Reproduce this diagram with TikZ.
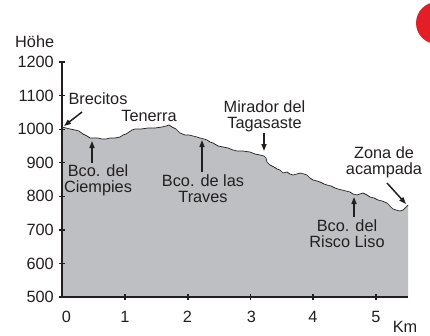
\documentclass[tikz,border=0pt]{standalone}
\usepackage{fontspec}
\setmainfont{Liberation Sans}
\usetikzlibrary{arrows.meta}
\definecolor{ink}{HTML}{231F20}
\definecolor{terrain}{HTML}{BEBFC2}
\definecolor{redmark}{HTML}{E41E26}
\tikzset{
  lbl/.style={font=\fontsize{16.3}{16}\selectfont, text=ink, inner sep=0pt, align=center},
  ticklbl/.style={font=\fontsize{16.3}{16}\selectfont, text=ink, inner sep=0pt},
  arr/.style={draw=ink, line width=1.5pt, -{Triangle[length=7pt,width=5pt]}},
  axisline/.style={draw=ink, line width=1.2pt},
  profile/.style={draw=ink, line width=0.7pt, line join=round}
}
\begin{document}
\begin{tikzpicture}[x=1pt,y=-1pt]
\useasboundingbox (0,0) rectangle (430,335);
\begin{scope}
\clip (0,0) rectangle (430,335);
\fill[redmark] (437,23) circle (21);
\end{scope}
% terrain
\path[fill=terrain] (62,297) -- (62,127) -- (66,128) -- (70,129) -- (75,130) -- (79,131) -- (83,134) -- (87,136) -- (90,138) -- (94,138) -- (98,138) -- (102,139) -- (106,139) -- (110,138) -- (115,138) -- (120,137) -- (123,135) -- (126,134) -- (129,132) -- (132,130) -- (135,129) -- (141,129) -- (148,128) -- (155,128) -- (162,127) -- (166,126) -- (169,125) -- (172,127) -- (176,129) -- (180,133) -- (185,135) -- (189,135) -- (193,136) -- (197,137) -- (200,138) -- (204,139) -- (207,140) -- (210,142) -- (213,143) -- (218,146) -- (223,147) -- (228,148) -- (233,150) -- (237,151) -- (243,151) -- (250,152) -- (255,154) -- (260,155) -- (264,156) -- (266,158) -- (267,162) -- (270,165) -- (274,167) -- (277,169) -- (280,170) -- (283,173) -- (287,172) -- (290,174) -- (293,175) -- (297,174) -- (300,173) -- (304,174) -- (307,175) -- (310,178) -- (313,180) -- (317,181) -- (320,182) -- (324,184) -- (327,185) -- (331,186) -- (335,188) -- (338,189) -- (342,190) -- (346,191) -- (350,192) -- (353,194) -- (357,195) -- (360,194) -- (363,193) -- (367,195) -- (370,197) -- (374,198) -- (378,200) -- (382,201) -- (387,203) -- (390,206) -- (393,209) -- (396,210) -- (400,211) -- (403,210) -- (405,208) -- (408,205) -- (408,297) -- cycle;
\draw[profile] (62,127) -- (66,128) -- (70,129) -- (75,130) -- (79,131) -- (83,134) -- (87,136) -- (90,138) -- (94,138) -- (98,138) -- (102,139) -- (106,139) -- (110,138) -- (115,138) -- (120,137) -- (123,135) -- (126,134) -- (129,132) -- (132,130) -- (135,129) -- (141,129) -- (148,128) -- (155,128) -- (162,127) -- (166,126) -- (169,125) -- (172,127) -- (176,129) -- (180,133) -- (185,135) -- (189,135) -- (193,136) -- (197,137) -- (200,138) -- (204,139) -- (207,140) -- (210,142) -- (213,143) -- (218,146) -- (223,147) -- (228,148) -- (233,150) -- (237,151) -- (243,151) -- (250,152) -- (255,154) -- (260,155) -- (264,156) -- (266,158) -- (267,162) -- (270,165) -- (274,167) -- (277,169) -- (280,170) -- (283,173) -- (287,172) -- (290,174) -- (293,175) -- (297,174) -- (300,173) -- (304,174) -- (307,175) -- (310,178) -- (313,180) -- (317,181) -- (320,182) -- (324,184) -- (327,185) -- (331,186) -- (335,188) -- (338,189) -- (342,190) -- (346,191) -- (350,192) -- (353,194) -- (357,195) -- (360,194) -- (363,193) -- (367,195) -- (370,197) -- (374,198) -- (378,200) -- (382,201) -- (387,203) -- (390,206) -- (393,209) -- (396,210) -- (400,211) -- (403,210) -- (405,208) -- (408,205);
% axes
\draw[axisline] (62,62) -- (62,297) -- (408,297);
\foreach \v/\y in {1200/62,1100/95.6,1000/129.1,900/162.7,800/196.3,700/229.9,600/263.4,500/297} {
  \draw[axisline] (59,\y) -- (65,\y);
  \node[ticklbl, anchor=east] (y\v) at (54,\y) {\v};
}
\foreach \k/\x/\lx in {1/125/125,2/188/187.5,3/250.5/251.5,4/313/313,5/376/376} {
  \draw[axisline] (\x,294) -- (\x,300);
  \node[ticklbl] (x\k) at (\lx,317) {\k};
}
\node[ticklbl] (x0) at (66.5,317) {0};
\node[ticklbl] (km) at (405,327) {Km};
\node[ticklbl, anchor=west] (hoehe) at (15,42) {Höhe};
% labels
\node[lbl] (brec) at (98,99) {Brecitos};
\node[lbl] (tene) at (149,116) {Tenerra};
\node[lbl] (mira) at (264.5,116) {Mirador del\\Tagasaste};
\node[lbl] (zona) at (384,162) {Zona de\\acampada};
\node[lbl] (ciem) at (98,180) {Bco. del\\Ciempies};
\node[lbl] (trav) at (203,189) {Bco. de las\\Traves};
\node[lbl] (risc) at (347,234) {Bco. del\\Risco Liso};
% arrow ends
\coordinate (brecA) at (82,112); \coordinate (brecB) at (64,126);
\coordinate (ciemA) at (92,163); \coordinate (ciemB) at (92,141);
\coordinate (travA) at (202,172); \coordinate (travB) at (202,140);
\coordinate (miraA) at (264,133); \coordinate (miraB) at (264,151);
\coordinate (riscA) at (354,217); \coordinate (riscB) at (354,197);
\coordinate (zonaA) at (387,183); \coordinate (zonaB) at (406,204);
\draw[arr] (brecA) -- (brecB);
\draw[arr] (ciemA) -- (ciemB);
\draw[arr] (travA) -- (travB);
\draw[arr] (miraA) -- (miraB);
\draw[arr] (riscA) -- (riscB);
\draw[arr] (zonaA) -- (zonaB);
\end{tikzpicture}
\end{document}
